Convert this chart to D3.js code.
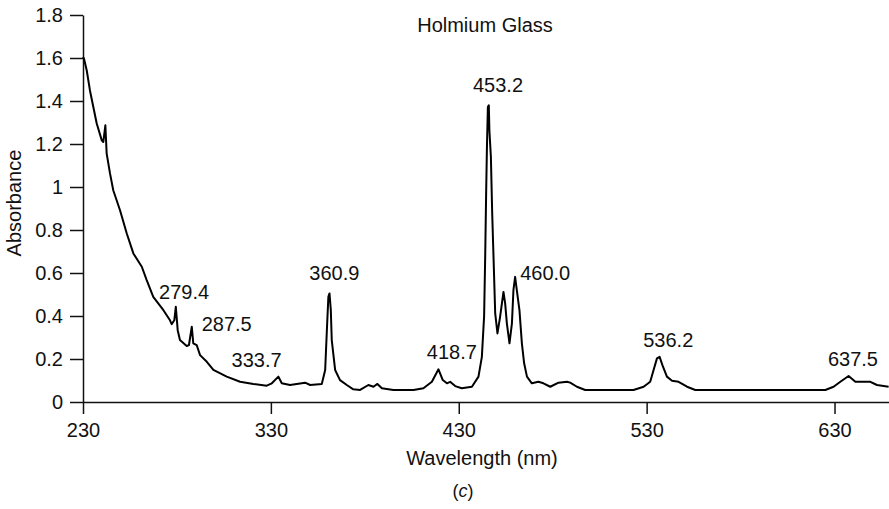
<!DOCTYPE html>
<html>
<head>
<meta charset="utf-8">
<script src="https://cdn.jsdelivr.net/npm/d3@7"></script>
<style>
  html, body { margin: 0; padding: 0; background: #fff; }
  svg text { font-family: "Liberation Sans", Arial, Helvetica, sans-serif; fill: #111; }
</style>
</head>
<body>
<svg id="chart" width="889" height="509"></svg>
<script>
// ---- data ----
const wavelength = [230.0,230.5,232.0,233.7,235.5,237.3,240.0,240.8,241.9,242.6,244.4,246.1,249.7,253.3,256.8,261.3,263.9,267.4,272.8,276.3,277.2,278.6,279.4,280.4,281.6,285.2,286.4,287.9,288.7,290.5,292.3,295.9,299.4,306.5,313.6,320.7,327.8,330.5,334.0,335.8,340.2,348.2,350.9,357.1,358.9,359.8,360.6,361.2,361.9,362.4,364.2,366.8,370.4,373.9,377.5,381.9,384.6,386.7,389.1,395.2,405.9,411.2,415.7,419.2,421.5,423.7,425.4,428.1,431.6,437.0,440.5,442.3,443.5,444.1,444.6,445.0,445.5,446.0,446.3,447.1,447.8,448.5,449.4,450.6,452.0,453.8,454.7,455.6,457.0,458.3,459.1,460.0,460.9,462.3,463.6,464.8,466.3,468.9,472.4,475.1,478.7,483.1,487.6,489.3,492.9,497.3,523.0,528.4,531.9,533.7,535.5,536.9,538.7,540.8,543.5,547.0,551.5,555.9,625.1,629.5,633.1,637.5,641.1,649.1,652.6,658.8];
const absorbance = [1.605,1.598,1.542,1.449,1.372,1.295,1.217,1.209,1.287,1.155,1.062,0.985,0.892,0.784,0.691,0.629,0.567,0.489,0.427,0.380,0.362,0.380,0.443,0.334,0.288,0.260,0.265,0.350,0.273,0.265,0.218,0.187,0.149,0.118,0.094,0.084,0.076,0.087,0.118,0.087,0.079,0.090,0.079,0.084,0.149,0.334,0.489,0.505,0.427,0.288,0.149,0.102,0.079,0.059,0.056,0.079,0.071,0.084,0.064,0.056,0.056,0.064,0.094,0.152,0.102,0.087,0.094,0.074,0.064,0.071,0.118,0.210,0.400,0.691,0.985,1.186,1.372,1.380,1.264,1.140,0.877,0.675,0.412,0.319,0.396,0.512,0.459,0.366,0.273,0.366,0.520,0.582,0.520,0.427,0.273,0.180,0.118,0.087,0.094,0.087,0.071,0.090,0.094,0.090,0.071,0.056,0.056,0.071,0.094,0.149,0.203,0.210,0.164,0.118,0.099,0.094,0.071,0.056,0.056,0.071,0.094,0.121,0.094,0.094,0.079,0.071];

const xTicks = [230, 330, 430, 530, 630];
const yTicks = [0, 0.2, 0.4, 0.6, 0.8, 1, 1.2, 1.4, 1.6, 1.8];
const yTickLabels = ["0", "0.2", "0.4", "0.6", "0.8", "1", "1.2", "1.4", "1.6", "1.8"];

// peak annotations: label text and anchor (wavelength, absorbance) for the label
const peakLabels = ["279.4", "287.5", "333.7", "360.9", "418.7", "453.2", "460.0", "536.2", "637.5"];
const peakLabelNm = [283.8, 306.5, 322.4, 363.8, 426.3, 450.9, 476.0, 541.5, 639.8];
const peakLabelAbs = [0.479, 0.328, 0.163, 0.569, 0.200, 1.440, 0.569, 0.258, 0.167];

const titleText = "Holmium Glass";
const xLabel = "Wavelength (nm)";
const yLabel = "Absorbance";
const captionLetter = "c";

// ---- layout ----
const svg = d3.select("#chart");
const mLeft = 83, mRight = 889, mTop = 15, mBottom = 402;
const FS = 20;

const x = d3.scaleLinear().domain([230, 659]).range([mLeft, mRight]);
const y = d3.scaleLinear().domain([0, 1.8]).range([mBottom, mTop]);

// axes
const xAxis = d3.axisBottom(x).tickValues(xTicks).tickSize(12).tickPadding(9).tickSizeOuter(0).tickFormat(d3.format("d"));
const gx = svg.append("g").attr("transform", `translate(0,${mBottom})`).call(xAxis);
gx.select(".domain").attr("stroke", "#111").attr("stroke-width", 1.5);
gx.selectAll(".tick line").attr("stroke", "#111").attr("stroke-width", 1.5);
gx.selectAll(".tick text").attr("font-size", FS).attr("fill", "#111");

const yAxis = d3.axisLeft(y).tickValues(yTicks).tickSize(13).tickPadding(7).tickSizeOuter(0)
  .tickFormat((d, i) => yTickLabels[i]);
const gy = svg.append("g").attr("transform", `translate(${mLeft},0)`).call(yAxis);
gy.select(".domain").attr("stroke", "#111").attr("stroke-width", 1.5);
gy.selectAll(".tick line").attr("stroke", "#111").attr("stroke-width", 1.5);
gy.selectAll(".tick text").attr("font-size", FS).attr("fill", "#111");

// spectrum line
const pts = wavelength.map((w, i) => [w, absorbance[i]]);
const line = d3.line().x(d => x(d[0])).y(d => y(d[1])).curve(d3.curveLinear);
svg.append("path").datum(pts)
  .attr("d", line)
  .attr("fill", "none")
  .attr("stroke", "#000")
  .attr("stroke-width", 2)
  .attr("stroke-linejoin", "round");

// peak labels
svg.append("g").selectAll("text").data(peakLabels).join("text")
  .attr("x", (d, i) => x(peakLabelNm[i]))
  .attr("y", (d, i) => y(peakLabelAbs[i]))
  .attr("text-anchor", "middle")
  .attr("font-size", FS)
  .text(d => d);

// title
svg.append("text").attr("x", 485).attr("y", 32).attr("text-anchor", "middle")
  .attr("font-size", FS).text(titleText);

// axis labels
svg.append("text").attr("x", 482).attr("y", 465).attr("text-anchor", "middle")
  .attr("font-size", FS).text(xLabel);
svg.append("text").attr("transform", "translate(21,203) rotate(-90)").attr("text-anchor", "middle")
  .attr("font-size", FS).text(yLabel);

// caption "(c)" with italic letter
const cap = svg.append("text").attr("x", 463).attr("y", 497).attr("text-anchor", "middle")
  .attr("font-size", 18);
cap.append("tspan").text("(");
cap.append("tspan").attr("font-style", "italic").text(captionLetter);
cap.append("tspan").text(")");
</script>
</body>
</html>
